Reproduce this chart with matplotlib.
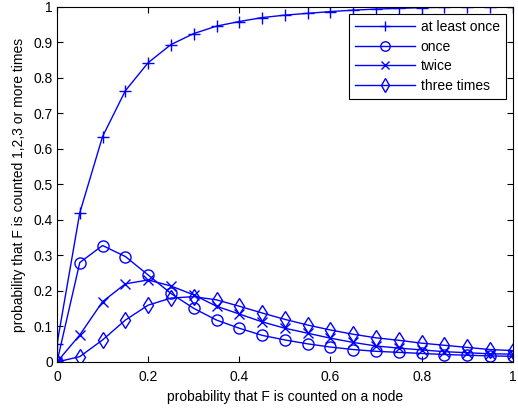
import numpy as np
import matplotlib
matplotlib.use("Agg")
import matplotlib.pyplot as plt

plt.rcParams['font.family'] = ['Liberation Sans', 'DejaVu Sans']

# probability that F is counted on a node
p = [0.0, 0.05, 0.1, 0.15, 0.2, 0.25, 0.3, 0.35, 0.4, 0.45, 0.5,
     0.55, 0.6, 0.65, 0.7, 0.75, 0.8, 0.85, 0.9, 0.95, 1.0]

at_least_once = [0.05, 0.42, 0.635, 0.764, 0.843, 0.894, 0.925, 0.946, 0.959, 0.97, 0.977,
                 0.982, 0.987, 0.991, 0.994, 0.996, 0.998, 0.999, 1.0, 1.0, 1.0]
once = [0.0, 0.28, 0.328, 0.297, 0.245, 0.193, 0.151, 0.118, 0.095, 0.075, 0.062,
        0.051, 0.042, 0.035, 0.03, 0.027, 0.024, 0.021, 0.019, 0.017, 0.016]
twice = [0.0, 0.076, 0.17, 0.22, 0.231, 0.214, 0.189, 0.157, 0.135, 0.113, 0.095,
         0.081, 0.067, 0.055, 0.045, 0.039, 0.034, 0.029, 0.026, 0.023, 0.022]
three_times = [0.0, 0.015, 0.062, 0.118, 0.16, 0.18, 0.184, 0.175, 0.157, 0.138, 0.12,
               0.104, 0.09, 0.078, 0.068, 0.061, 0.053, 0.047, 0.041, 0.035, 0.032]

fig = plt.figure(figsize=(5.18, 4.09), dpi=100)
ax = fig.add_axes([0.110, 0.115, 0.880, 0.868])

blue = (0, 0, 1)
ax.plot(p, at_least_once, '-+', color=blue, lw=1, ms=9, mew=1, label='at least once')
ax.plot(p, once, '-o', color=blue, lw=1, ms=8, mew=1, mfc='none', label='once')
ax.plot(p, twice, '-x', color=blue, lw=1, ms=7, mew=1, label='twice')
ax.plot(p, three_times, '-d', color=blue, lw=1, ms=8, mew=1, mfc='none', label='three times')

ax.set_xlim(0, 1)
ax.set_ylim(0, 1)
ax.set_xticks([0, 0.2, 0.4, 0.6, 0.8, 1])
ax.set_xticklabels(['0', '0.2', '0.4', '0.6', '0.8', '1'])
ax.set_yticks(np.arange(0, 1.01, 0.1))
ax.set_yticklabels(['0', '0.1', '0.2', '0.3', '0.4', '0.5', '0.6', '0.7', '0.8', '0.9', '1'])
ax.tick_params(direction='in', top=True, right=True, length=4, width=0.8, labelsize=10)
ax.tick_params(axis='x', pad=6)
ax.tick_params(axis='y', pad=3)
for s in ax.spines.values():
    s.set_linewidth(0.8)

ax.set_xlabel('probability that F is counted on a node', fontsize=10, labelpad=4)
ax.set_ylabel('probability that F is counted 1,2,3 or more times', fontsize=10, labelpad=5)

leg = ax.legend(loc='upper right', fontsize=10, frameon=True, fancybox=False,
                edgecolor='black', framealpha=1, handlelength=4.3, borderaxespad=0.5,
                labelspacing=0.4, handletextpad=0.4, borderpad=0.45, markerscale=0.85)
leg.get_frame().set_linewidth(0.8)

fig.savefig('out.png', dpi=100)
